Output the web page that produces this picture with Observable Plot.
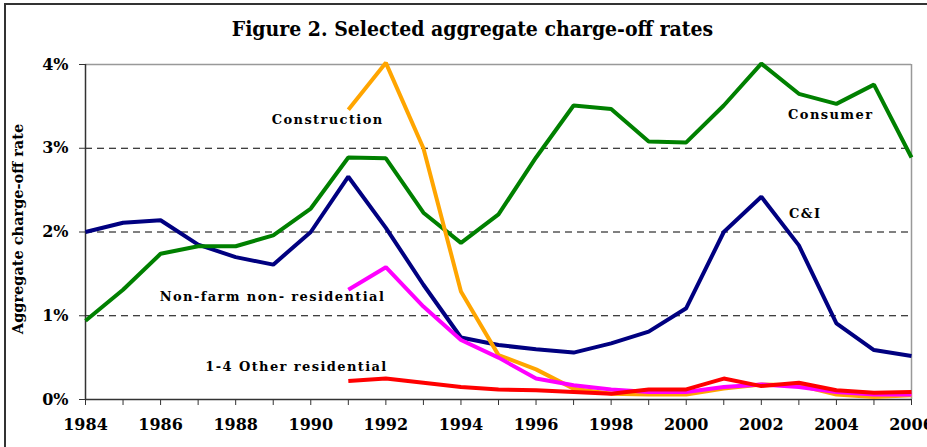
<!DOCTYPE html>
<html>
<head>
<meta charset="utf-8">
<script src="https://cdn.jsdelivr.net/npm/d3@7"></script>
<script src="https://cdn.jsdelivr.net/npm/@observablehq/plot@0.6"></script>
<style>
  html, body { margin: 0; padding: 0; background: #fff; overflow: hidden; }
  #frame { position: absolute; left: 4px; top: 3px; width: 1000px; height: 1000px; border: 2px solid #333; box-sizing: border-box; z-index: 10; pointer-events: none; }
  #title { position: absolute; left: 0; top: 16px; width: 945px; text-align: center;
           font-family: "DejaVu Serif Condensed", "DejaVu Serif", serif; font-weight: bold; font-size: 21px; color: #000; z-index: 5; }
  #chart { position: absolute; left: 0; top: 50px; }
  #chart g[aria-label="text"] text { letter-spacing: 1.4px; }
</style>
</head>
<body>
<div id="frame"></div>
<div id="title">Figure 2. Selected aggregate charge-off rates</div>
<div id="chart"></div>
<script>
const years = d3.range(1984, 2007);
const seriesNames = ["C&I", "Consumer", "Construction", "Non-farm non-residential", "1-4 Other residential"];
const seriesColors = ["#000080", "#008000", "#FFA500", "#FF00FF", "#FF0000"];
const ciValues = [2.00, 2.11, 2.14, 1.85, 1.70, 1.61, 2.00, 2.66, 2.05, 1.37, 0.74, 0.65, 0.60, 0.56, 0.67, 0.81, 1.09, 2.00, 2.42, 1.84, 0.91, 0.59, 0.52];
const consumerValues = [0.94, 1.31, 1.74, 1.83, 1.83, 1.96, 2.28, 2.89, 2.88, 2.23, 1.87, 2.21, 2.89, 3.51, 3.47, 3.08, 3.07, 3.51, 4.01, 3.65, 3.53, 3.76, 2.89];
const constructionValues = [null, null, null, null, null, null, null, 3.46, 4.02, 3.00, 1.29, 0.53, 0.36, 0.13, 0.07, 0.06, 0.06, 0.13, 0.18, 0.17, 0.06, 0.03, 0.05];
const nonfarmValues = [null, null, null, null, null, null, null, 1.31, 1.58, 1.11, 0.71, 0.50, 0.25, 0.17, 0.12, 0.09, 0.09, 0.15, 0.18, 0.15, 0.09, 0.06, 0.06];
const residentialValues = [null, null, null, null, null, null, null, 0.22, 0.25, 0.20, 0.15, 0.12, 0.11, 0.09, 0.07, 0.12, 0.12, 0.25, 0.16, 0.20, 0.11, 0.08, 0.09];
const allValues = [ciValues, consumerValues, constructionValues, nonfarmValues, residentialValues];

const yTicks = [0, 1, 2, 3, 4];
const gridTicks = [1, 2, 3];
const labelTexts = ["Construction", "Consumer", "C&I", "Non-farm non- residential", "1-4 Other residential"];
const labelYears = [1990.45, 2003.85, 2003.17, 1988.98, 1989.62];
const labelRates = [3.34, 3.40, 2.22, 1.22, 0.39];

const rows = [];
seriesNames.forEach((name, i) => {
  years.forEach((yr, j) => {
    const v = allValues[i][j];
    if (v != null) rows.push({series: name, year: yr, rate: v});
  });
});
const labels = labelTexts.map((t, i) => ({text: t, year: labelYears[i], rate: labelRates[i]}));

const chart = Plot.plot({
  width: 927,
  height: 397,
  marginLeft: 85,
  marginRight: 16,
  marginTop: 14,
  marginBottom: 48,
  style: {fontFamily: "DejaVu Serif", fontSize: "16px", fontWeight: "bold", color: "#000", background: "#fff", overflow: "visible"},
  x: {domain: [1984, 2006]},
  y: {domain: [0, 4]},
  color: {domain: seriesNames, range: seriesColors},
  marks: [
    Plot.ruleY(gridTicks, {stroke: "#000", strokeDasharray: "7,5", strokeWidth: 1}),
    Plot.ruleY([4], {stroke: "#999", strokeWidth: 1.5}),
    Plot.ruleX([2006], {stroke: "#999", strokeWidth: 1.5}),
    Plot.axisX({ticks: years, tickFormat: d => d % 2 === 0 ? String(d) : "", tickSize: 6, tickPadding: 13, label: null, stroke: "#333"}),
    Plot.axisY({ticks: yTicks, tickFormat: d => d + "%", tickSize: 6, tickPadding: 11, label: null, stroke: "#333"}),
    Plot.ruleX([1984], {stroke: "#333", strokeWidth: 1.5}),
    Plot.ruleY([0], {stroke: "#333", strokeWidth: 1.5}),
    Plot.line(rows, {x: "year", y: "rate", z: "series", stroke: "series", strokeWidth: 4, strokeLinejoin: "miter", strokeLinecap: "butt"}),
    Plot.text(labels, {x: "year", y: "rate", text: "text", fontSize: 13, fontWeight: "bold", fontFamily: "DejaVu Serif", fill: "#000"})
  ]
});
document.getElementById("chart").appendChild(chart);

// y-axis title
const svg = d3.select(chart);
svg.append("text")
  .attr("transform", "translate(19," + 179 + ") rotate(-90)")
  .attr("text-anchor", "middle")
  .attr("dominant-baseline", "middle")
  .style("font-family", "DejaVu Serif")
  .style("font-weight", "bold")
  .style("font-size", "14.5px")
  .text("Aggregate charge-off rate");
</script>
</body>
</html>
